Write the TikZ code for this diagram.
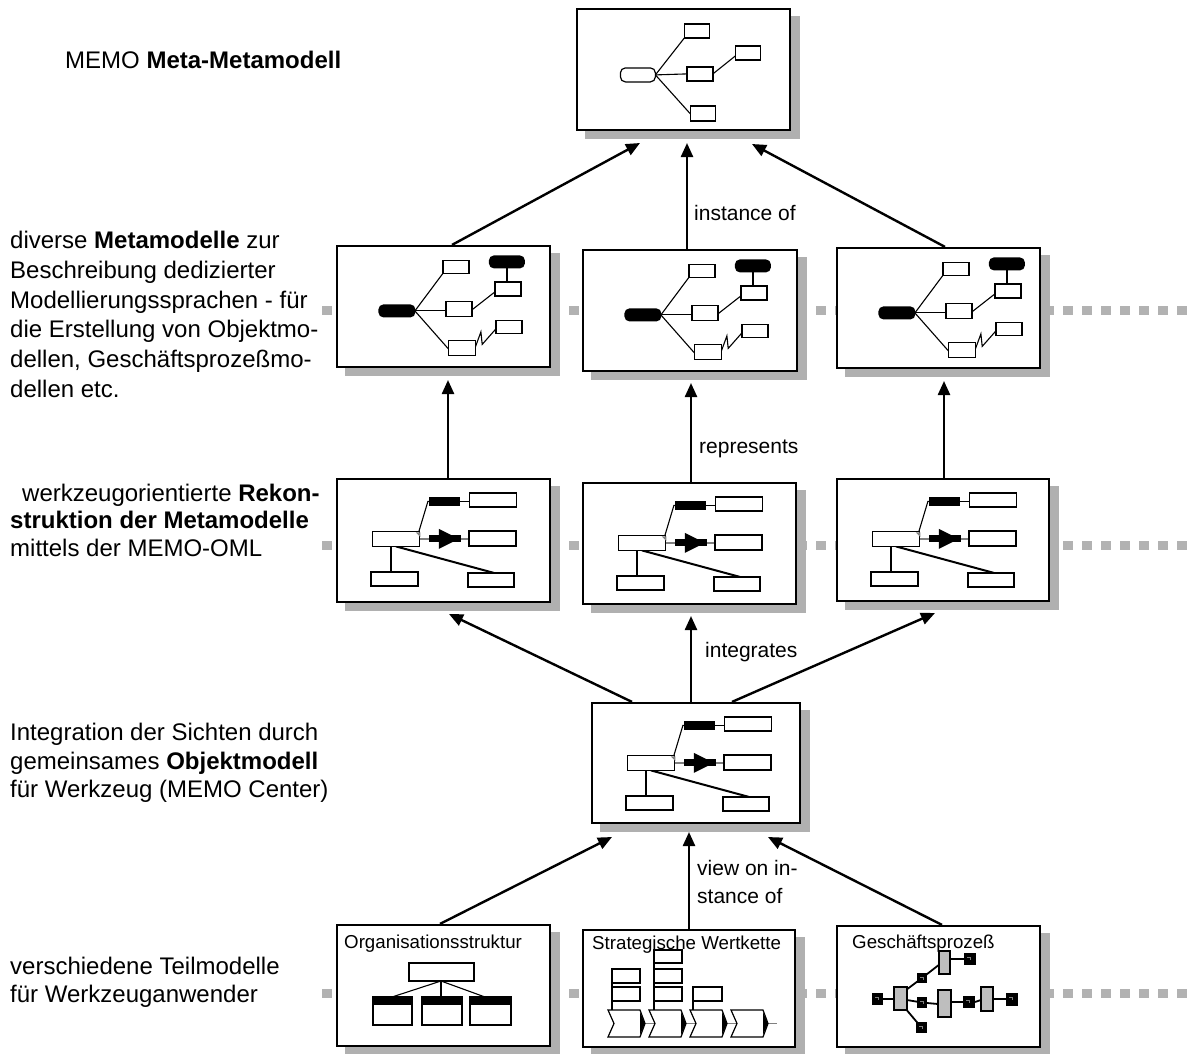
\documentclass[tikz,border=0pt]{standalone}
\usepackage{fontspec}
\setmainfont{Liberation Sans}
\usetikzlibrary{arrows.meta,calc}
\definecolor{shadowgrey}{RGB}{176,176,176}
\definecolor{dashgrey}{RGB}{178,178,178}
\definecolor{procgrey}{RGB}{190,190,190}
\pgfdeclarelayer{bglayer}
\pgfdeclarelayer{dashlayer}
\pgfdeclarelayer{shadowlayer}
\pgfsetlayers{bglayer,dashlayer,shadowlayer,main}
\tikzset{
  bigbox/.style={draw, line width=2.2pt, fill=white, inner sep=0pt},
  mini/.style={draw, line width=1.5pt, fill=white},
  thinl/.style={line width=1.1pt},
  arr/.style={line width=2.4pt, -{Triangle[length=14pt,width=12pt]}},
  lefttxt/.style={anchor=base west, inner sep=0pt, font=\fontsize{24}{29}\selectfont},
  lbl/.style={anchor=base west, inner sep=0pt, font=\fontsize{21}{27}\selectfont},
  ttl/.style={anchor=base west, inner sep=0pt, font=\fontsize{18.7}{22}\selectfont},
  greydash/.style={dashgrey, line width=9pt, dash pattern=on 10pt off 9pt},
}
\newcommand{\drawshadow}[1]{%
  \begin{pgfonlayer}{shadowlayer}
    \fill[shadowgrey] ($(#1.south west)+(9,8)$) rectangle ($(#1.north east)+(9,8)$);
  \end{pgfonlayer}}
% metamodel miniature, relative to box north west
\newcommand{\metainner}[1]{%
  \begin{scope}[shift={(#1)}]
    \draw[thinl] (79,66) -- (107,28.5);
    \draw[thinl] (79,66) -- (110,66);
    \draw[thinl] (79,66) -- (112.5,104);
    \draw[thinl] (136,65) -- (159,47);
    \draw[line width=1.6pt] (171,23.5) -- (171,37);
    \draw[thinl] (139.5,102) -- (145,87) -- (146.3,99.5) -- (160,84);
    \fill[black, rounded corners=5pt] (42.5,59.5) rectangle (79.5,72.5);
    \fill[black, rounded corners=5pt] (153,10.5) rectangle (189,23.5);
    \draw[mini] (107,15.5) rectangle (133,28.5);
    \draw[mini] (159,37) rectangle (185,51);
    \draw[mini] (110,56.5) rectangle (136,71.5);
    \draw[mini] (160,75.5) rectangle (186,88.5);
    \draw[mini] (112.5,95.5) rectangle (139.5,110.5);
  \end{scope}}
% reconstruction / integration miniature
\newcommand{\reconinner}[1]{%
  \begin{scope}[shift={(#1)}]
    \draw[line width=1.4pt] (55,68.5) -- (55,94);
    \draw[line width=2pt] (60,68.5) -- (158,95);
    \draw[thinl] (83,53.5) -- (92,23.5) -- (94,23.5);
    \draw[line width=1.4pt] (124,23.5) -- (133.5,23.5);
    \draw[line width=1.4pt, gray] (83.5,61) -- (93,61);
    \draw[line width=1.4pt, gray] (125,61) -- (133,61);
    \fill[black] (93,19) rectangle (124,28);
    \fill[black] (93,57.5) rectangle (125,64.5);
    \fill[black] (103,51) -- (123,61) -- (103,71) -- cycle;
    \draw[mini] (36.5,53.5) rectangle (83.5,68.5);
    \fill[gray] (80,54.5) -- (84.5,54.5) -- (84.5,59) -- cycle;
    \draw[mini] (133.5,15) rectangle (180.5,29);
    \draw[mini] (133,53) rectangle (180,68);
    \draw[mini] (35,94) rectangle (82,108);
    \draw[mini] (132,95) rectangle (178,109);
  \end{scope}}
\newcommand{\chev}[1]{%
  \draw[line width=1.2pt, fill=white] (#1,1010) -- ++(32,0) -- ++(5,13.5) -- ++(-5,13.5) -- ++(-32,0) -- ++(6,-13.5) -- cycle;
  \fill[black] (#1+32,1012) -- (#1+37,1023.5) -- (#1+32,1035) -- cycle;}
\newcommand{\blk}[2]{%
  \fill[black] (#1) rectangle (#2);
  \draw[gray, line width=0.6pt] ($(#1)+(3,4)$) -- ($(#1)+(6,4)$) -- ($(#1)+(6,7)$);}
\newcommand{\gact}[2]{\draw[line width=1.6pt, fill=procgrey] (#1) rectangle (#2);}
\begin{document}
\begin{tikzpicture}[x=1pt, y=-1pt]
\useasboundingbox (0,0) rectangle (1192,1053);
\begin{pgfonlayer}{bglayer}
  \fill[white] (0,0) rectangle (1192,1053);
\end{pgfonlayer}

% grey level lines
\begin{pgfonlayer}{dashlayer}
  \coordinate (d1a) at (322,310); \coordinate (d1b) at (1192,310);
  \coordinate (d2a) at (322,545); \coordinate (d2b) at (1192,545);
  \coordinate (d3a) at (322,993); \coordinate (d3b) at (1192,993);
  \draw[greydash] (d1a) -- (d1b);
  \draw[greydash] (d2a) -- (d2b);
  \draw[greydash] (d3a) -- (d3b);
\end{pgfonlayer}

% main boxes
\node[bigbox, minimum width=213pt, minimum height=121pt] (T)  at (683.5,69.5) {};
\node[bigbox, minimum width=213pt, minimum height=121pt] (M1) at (443.5,306.5) {};
\node[bigbox, minimum width=214pt, minimum height=121pt] (M2) at (690,310.5) {};
\node[bigbox, minimum width=203pt, minimum height=120pt] (M3) at (938.5,308) {};
\node[bigbox, minimum width=213pt, minimum height=123pt] (R1) at (443.5,540.5) {};
\node[bigbox, minimum width=213pt, minimum height=121pt] (R2) at (689.5,543.5) {};
\node[bigbox, minimum width=212pt, minimum height=122pt] (R3) at (943,540) {};
\node[bigbox, minimum width=208pt, minimum height=120pt] (I)  at (696,763) {};
\node[bigbox, minimum width=213pt, minimum height=121pt] (B1) at (443.5,985.5) {};
\node[bigbox, minimum width=212pt, minimum height=117pt] (B2) at (689,988.5) {};
\node[bigbox, minimum width=203pt, minimum height=121pt] (B3) at (938.5,986.5) {};
\foreach \b in {T,M1,M2,M3,R1,R2,R3,I,B1,B2,B3} {\drawshadow{\b}}

% top box content
\begin{scope}[shift={(T.north west)}]
  \draw[thinl] (79.5,67) -- (108.5,30);
  \draw[thinl] (79.5,67) -- (111,66);
  \draw[thinl] (79.5,67) -- (114.5,106);
  \draw[thinl] (137,66) -- (159.5,48);
  \draw[line width=1.2pt, fill=white, rounded corners=5pt] (44.5,60) rectangle (79.5,74);
  \draw[mini] (108.5,16) rectangle (133.5,30);
  \draw[mini] (111,59) rectangle (137,73);
  \draw[mini] (159.5,38) rectangle (184.5,52);
  \draw[mini] (114.5,98) rectangle (139.5,113);
\end{scope}

\metainner{M1.north west}
\metainner{M2.north west}
\metainner{M3.north west}
\reconinner{R1.north west}
\reconinner{R2.north west}
\reconinner{R3.north west}
\reconinner{I.north west}

% Organisationsstruktur
\node[ttl] (t1) at (344,948) {Organisationsstruktur};
\draw[thinl] (441,981) -- (392,997);
\draw[line width=1.4pt] (441,981) -- (441,997);
\draw[thinl] (441,981) -- (485,997);
\draw[mini] (409,963) rectangle (474,981);
\foreach \xa/\xb in {373/412, 422/462, 470/511} {
  \draw[mini] (\xa,997) rectangle (\xb,1025);
  \fill[black] (\xa,997) rectangle (\xb,1005);
}

% Strategische Wertkette
\node[ttl] (t2) at (592,949) {Strategische Wertkette};
\draw[line width=1.4pt] (612,983) -- (612,1010);
\draw[line width=1.4pt] (654,963) -- (654,1010);
\draw[line width=1.4pt] (693,1001) -- (693,1010);
\draw[line width=1.2pt, gray] (640,1023.5) -- (777,1023.5);
\chev{608}\chev{649}\chev{690}\chev{731}
\draw[mini] (612,969) rectangle (640,983);
\draw[mini] (612,987) rectangle (640,1001);
\draw[mini] (654,950) rectangle (682,963);
\draw[mini] (654,969) rectangle (682,983);
\draw[mini] (654,987) rectangle (682,1001);
\draw[mini] (693,987) rectangle (722,1001);

% Geschaeftsprozess
\node[ttl] (t3) at (852,948) {Geschäftsprozeß};
\begin{scope}[line width=1.8pt]
  \draw (883,999) -- (894,999);
  \draw (906,990) -- (922,978);
  \draw (922,978) -- (940,964);
  \draw (950,959) -- (964,959);
  \draw (907,1000) -- (922,1002.5);
  \draw (927,1003) -- (938,1004);
  \draw (951,1002) -- (963,1002);
  \draw (975,1002) -- (981,1000);
  \draw (993,999) -- (1006,999);
  \draw (905,1008) -- (921,1027);
\end{scope}
\gact{894,987}{907,1010}
\gact{939,951}{950,974}
\gact{938,990}{951,1017}
\gact{981,987}{993,1011}
\blk{872,993}{883,1005}
\blk{917,973}{927,983}
\blk{964,953}{976,965}
\blk{917,997}{927,1008}
\blk{916,1022}{927,1033}
\blk{963,996}{975,1008}
\blk{1006,993}{1018,1006}

% arrows
\coordinate (aT1) at (640,143);
\coordinate (aT2) at (687,143);
\coordinate (aT3) at (752,144);
\draw[arr] ([xshift=8.5pt]M1.north) -- (aT1);
\draw[arr] ([xshift=-3pt]M2.north) -- (aT2);
\draw[arr] ([xshift=6.5pt]M3.north) -- (aT3);
\coordinate (aM1) at (448,380);
\coordinate (aM2) at (691,383);
\coordinate (aM3) at (944,381);
\draw[arr] ([xshift=4.5pt]R1.north) -- (aM1);
\draw[arr] ([xshift=1.5pt]R2.north) -- (aM2);
\draw[arr] ([xshift=1pt]R3.north) -- (aM3);
\coordinate (aR1) at (449,614);
\coordinate (aR2) at (691,616);
\coordinate (aR3) at (935,613);
\draw[arr] ([xshift=-64pt]I.north) -- (aR1);
\draw[arr] ([xshift=-5pt]I.north) -- (aR2);
\draw[arr] ([xshift=36pt]I.north) -- (aR3);
\coordinate (aI1) at (612,837);
\coordinate (aI2) at (689,832);
\coordinate (aI3) at (768,837);
\draw[arr] ([xshift=-3.5pt]B1.north) -- (aI1);
\draw[arr] (B2.north) -- (aI2);
\draw[arr] ([xshift=3.5pt]B3.north) -- (aI3);

% arrow labels
\node[lbl] (l1) at (694,220) {instance of};
\node[lbl] (l2) at (699,453) {represents};
\node[lbl] (l3) at (705,657) {integrates};
\node[lbl] (l4) at (697,875) {view on in-};
\node[lbl] (l5) at (697,903) {stance of};

% left texts
\node[lefttxt] (x0) at (65,68) {MEMO \textbf{Meta-Metamodell}};
\node[lefttxt] (x1) at (10,248) {diverse \textbf{Metamodelle} zur};
\node[lefttxt] (x2) at (10,278) {Beschreibung dedizierter};
\node[lefttxt] (x3) at (10,308) {Modellierungssprachen - für};
\node[lefttxt] (x4) at (10,337) {die Erstellung von Objektmo-};
\node[lefttxt] (x5) at (10,367) {dellen, Geschäftsprozeßmo-};
\node[lefttxt] (x6) at (10,397) {dellen etc.};
\node[lefttxt] (y1) at (22,501) {werkzeugorientierte \textbf{Rekon-}};
\node[lefttxt] (y2) at (10,528) {\textbf{struktion der Metamodelle}};
\node[lefttxt] (y3) at (10,556) {mittels der MEMO-OML};
\node[lefttxt] (z1) at (10,740) {Integration der Sichten durch};
\node[lefttxt] (z2) at (10,769) {gemeinsames \textbf{Objektmodell}};
\node[lefttxt] (z3) at (10,797) {für Werkzeug (MEMO Center)};
\node[lefttxt] (w1) at (10,974) {verschiedene Teilmodelle};
\node[lefttxt] (w2) at (10,1002) {für Werkzeuganwender};
\end{tikzpicture}
\end{document}
